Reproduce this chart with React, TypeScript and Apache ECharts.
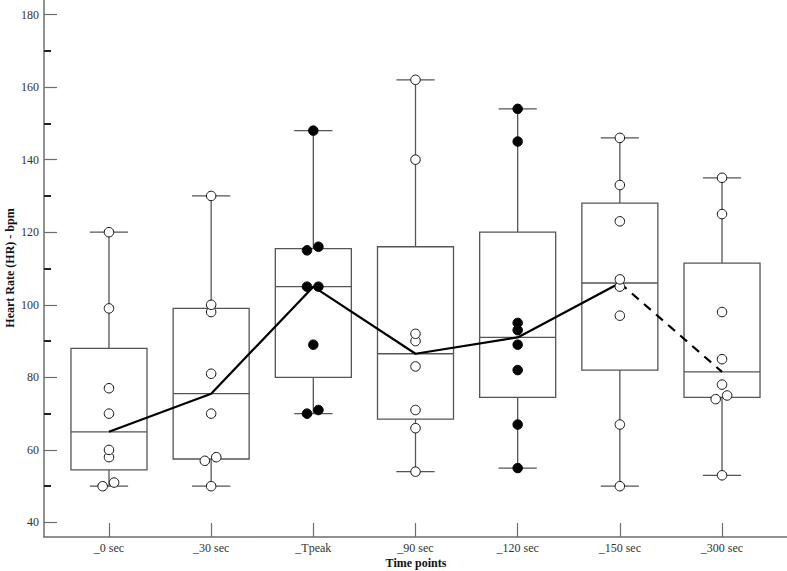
import React, { useEffect, useRef } from "react";
import * as echarts from "echarts";

const categories = ["_0 sec", "_30 sec", "_Tpeak", "_90 sec", "_120 sec", "_150 sec", "_300 sec"];
const hr0 = [120, 99, 77, 70, 60, 58, 51, 50];
const hr30 = [130, 100, 98, 81, 70, 58, 57, 50];
const hrTpeak = [148, 116, 115, 105, 105, 89, 71, 70];
const hr90 = [162, 140, 92, 90, 83, 71, 66, 54];
const hr120 = [154, 145, 95, 93, 89, 82, 67, 55];
const hr150 = [146, 133, 123, 107, 105, 97, 67, 50];
const hr300 = [135, 125, 98, 85, 78, 75, 74, 53];
const groups = [hr0, hr30, hrTpeak, hr90, hr120, hr150, hr300];
const filledGroup = [false, false, true, false, true, false, false];
const yLabelTicks = [40, 60, 80, 100, 120, 140, 160, 180];
const yMinorTicks = [50, 70, 90, 110, 130, 150, 170];
const xTicks = [0, 1, 2, 3, 4, 5, 6];

const FONT = "'Liberation Serif', 'DejaVu Serif', serif";

function med(a: number[]): number {
  const n = a.length;
  return n % 2 ? a[(n - 1) / 2] : (a[n / 2 - 1] + a[n / 2]) / 2;
}
function stats(vals: number[]) {
  const s = [...vals].sort((a, b) => a - b);
  const n = s.length;
  const half = Math.floor(n / 2);
  const lower = s.slice(0, n % 2 ? half + 1 : half);
  const upper = s.slice(half);
  return [s[0], med(lower), med(s), med(upper), s[n - 1]];
}

export default function App() {
  const ref = useRef<HTMLDivElement>(null);
  useEffect(() => {
    if (!ref.current) return;
    const chart = echarts.init(ref.current, undefined, { renderer: "svg" });
    const boxData = groups.map((g, i) => [i, ...stats(g)]);
    const medians = boxData.map((b) => [b[0], b[3]]);

    const openPts: number[][] = [];
    const filledPts: number[][] = [];
    groups.forEach((g, i) => {
      const s = [...g].sort((a, b) => a - b);
      s.forEach((v, k) => {
        let off = 0;
        if (k + 1 < s.length && s[k + 1] - v <= 1) off = -0.062;
        else if (k > 0 && v - s[k - 1] <= 1) off = 0.05;
        (filledGroup[i] ? filledPts : openPts).push([i + off, v]);
      });
    });

    const boxStroke = "#555";
    const option: any = {
      animation: false,
      backgroundColor: "#fff",
      grid: { left: 44, right: 0, top: 0, bottom: 34, containLabel: false, outerBoundsMode: "none" },
      xAxis: {
        type: "value",
        min: -0.636,
        max: 6.636,
        splitLine: { show: false },
        axisLine: { show: true, onZero: false, lineStyle: { color: "#6e6e6e", width: 1.5 } },
        axisTick: { show: true, inside: true, length: 14, customValues: xTicks, lineStyle: { color: "#6e6e6e", width: 1.2 } },
        axisLabel: {
          customValues: xTicks,
          formatter: (v: number) => categories[Math.round(v)],
          fontFamily: FONT,
          fontSize: 12,
          color: "#333",
          margin: 5,
        },
      },
      yAxis: [
        {
          type: "value",
          min: 36,
          max: 184,
          position: "left",
          splitLine: { show: false },
          axisLine: { show: true, onZero: false, lineStyle: { color: "#6e6e6e", width: 1.5 } },
          axisTick: { show: true, inside: true, length: 13, customValues: yLabelTicks, lineStyle: { color: "#6e6e6e", width: 1.2 } },
          axisLabel: { customValues: yLabelTicks, fontFamily: FONT, fontSize: 12, color: "#333", margin: 5 },
        },
        {
          type: "value",
          min: 36,
          max: 184,
          position: "left",
          offset: 0,
          splitLine: { show: false },
          axisLine: { show: false, onZero: false },
          axisTick: { show: true, inside: true, length: 7, customValues: yMinorTicks, lineStyle: { color: "#222", width: 2 } },
          axisLabel: { show: false },
        },
      ],
      graphic: [
        {
          type: "text",
          x: 10,
          y: 268,
          rotation: Math.PI / 2,
          style: { text: "Heart Rate (HR) - bpm", font: `bold 12px ${FONT}`, fill: "#111", align: "center", verticalAlign: "middle" },
        },
        {
          type: "text",
          x: 416,
          y: 563,
          style: { text: "Time points", font: `bold 12px ${FONT}`, fill: "#111", align: "center", verticalAlign: "middle" },
        },
      ],
      series: [
        {
          type: "custom",
          data: boxData,
          z: 2,
          renderItem: (_p: any, api: any) => {
            const x = api.value(0);
            const mn = api.coord([x, api.value(1)]);
            const q1 = api.coord([x - 0.372, api.value(2)]);
            const md = api.coord([x, api.value(3)]);
            const q3 = api.coord([x + 0.372, api.value(4)]);
            const mx = api.coord([x, api.value(5)]);
            const cl = api.coord([x - 0.187, 0])[0];
            const cr = api.coord([x + 0.187, 0])[0];
            const st = { stroke: boxStroke, lineWidth: 1.3, fill: "none" };
            return {
              type: "group",
              children: [
                { type: "line", shape: { x1: mx[0], y1: mx[1], x2: mx[0], y2: q3[1] }, style: st },
                { type: "line", shape: { x1: mn[0], y1: q1[1], x2: mn[0], y2: mn[1] }, style: st },
                { type: "line", shape: { x1: cl, y1: mx[1], x2: cr, y2: mx[1] }, style: st },
                { type: "line", shape: { x1: cl, y1: mn[1], x2: cr, y2: mn[1] }, style: st },
                { type: "rect", shape: { x: q1[0], y: q3[1], width: q3[0] - q1[0], height: q1[1] - q3[1] }, style: { ...st, fill: "#fff" } },
                { type: "line", shape: { x1: q1[0], y1: md[1], x2: q3[0], y2: md[1] }, style: st },
              ],
            };
          },
        },
        {
          type: "line",
          data: medians.slice(0, 6),
          symbol: "none",
          z: 3,
          lineStyle: { color: "#000", width: 2.2 },
        },
        {
          type: "line",
          data: medians.slice(5),
          symbol: "none",
          z: 3,
          lineStyle: { color: "#000", width: 2.2, type: [9, 7] },
        },
        {
          type: "scatter",
          data: openPts,
          symbol: "circle",
          symbolSize: 9.5,
          z: 4,
          itemStyle: { color: "#fff", borderColor: "#111", borderWidth: 1, opacity: 1 },
        },
        {
          type: "scatter",
          data: filledPts,
          symbol: "circle",
          symbolSize: 9.5,
          z: 4,
          itemStyle: { color: "#000", borderColor: "#000", borderWidth: 1, opacity: 1 },
        },
      ],
    };
    chart.setOption(option);
    return () => chart.dispose();
  }, []);
  return <div ref={ref} style={{ position: "fixed", left: 0, top: 0, width: 787, height: 571 }} />;
}
